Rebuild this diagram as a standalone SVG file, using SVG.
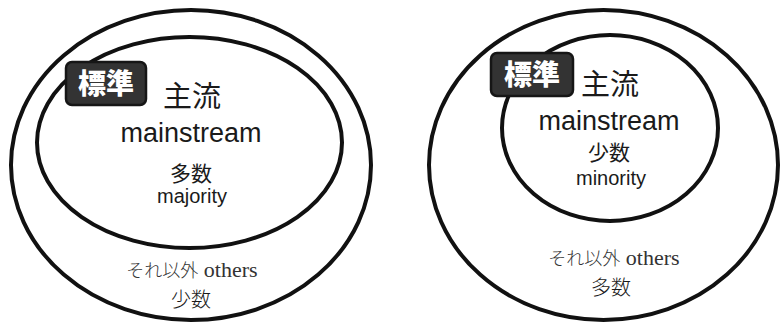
<svg xmlns="http://www.w3.org/2000/svg" width="782" height="325" viewBox="0 0 782 325">
<style>
.ring{fill:none;stroke:#111;stroke-width:4}
.badge{fill:#333;stroke:#161616;stroke-width:2.5}
.bt{font-family:"Noto Sans CJK JP","Liberation Sans",sans-serif;font-weight:900;font-size:28px;fill:#fff;text-anchor:middle}
.jp{font-family:"Noto Sans CJK JP",sans-serif;fill:#1a1a1a;text-anchor:middle}
.en{font-family:"Liberation Sans",Arial,sans-serif;fill:#1a1a1a;text-anchor:middle}
.ot{font-family:"Liberation Serif","Noto Sans CJK JP",serif;fill:#333;text-anchor:middle;font-size:22px}
.otj{font-family:"Noto Sans CJK JP",sans-serif;font-weight:300;font-size:18px}
</style>
<rect width="782" height="325" fill="#fff"/>
<g id="left-outer">
<ellipse class="ring" cx="191" cy="165" rx="180" ry="155"/>
<text class="ot" x="192" y="277"><tspan class="otj">それ以外</tspan> others</text>
<text class="jp" x="191" y="307" font-size="20" font-weight="300">少数</text>
</g>
<g id="left-inner">
<ellipse class="ring" cx="189.5" cy="142.5" rx="152.5" ry="105.5"/>
<text class="jp" x="192" y="107" font-size="29">主流</text>
<text class="en" x="191" y="142" font-size="27">mainstream</text>
<text class="jp" x="191" y="181" font-size="21">多数</text>
<text class="en" x="192" y="203" font-size="20">majority</text>
</g>
<g id="left-badge">
<rect class="badge" x="66" y="62" width="80" height="43" rx="6"/>
<text class="bt" x="106" y="94">標準</text>
</g>
<g id="right-outer">
<ellipse class="ring" cx="603.5" cy="165" rx="174.5" ry="155"/>
<text class="ot" x="614" y="265"><tspan class="otj">それ以外</tspan> others</text>
<text class="jp" x="611" y="295" font-size="20" font-weight="300">多数</text>
</g>
<g id="right-inner">
<ellipse class="ring" cx="610" cy="128" rx="108" ry="93"/>
<text class="jp" x="610" y="95" font-size="29">主流</text>
<text class="en" x="609" y="130" font-size="27">mainstream</text>
<text class="jp" x="609" y="160" font-size="21">少数</text>
<text class="en" x="611" y="185" font-size="20">minority</text>
</g>
<g id="right-badge">
<rect class="badge" x="491" y="53" width="82" height="43" rx="6"/>
<text class="bt" x="532" y="85">標準</text>
</g>
<g id="connectors"/>
</svg>
